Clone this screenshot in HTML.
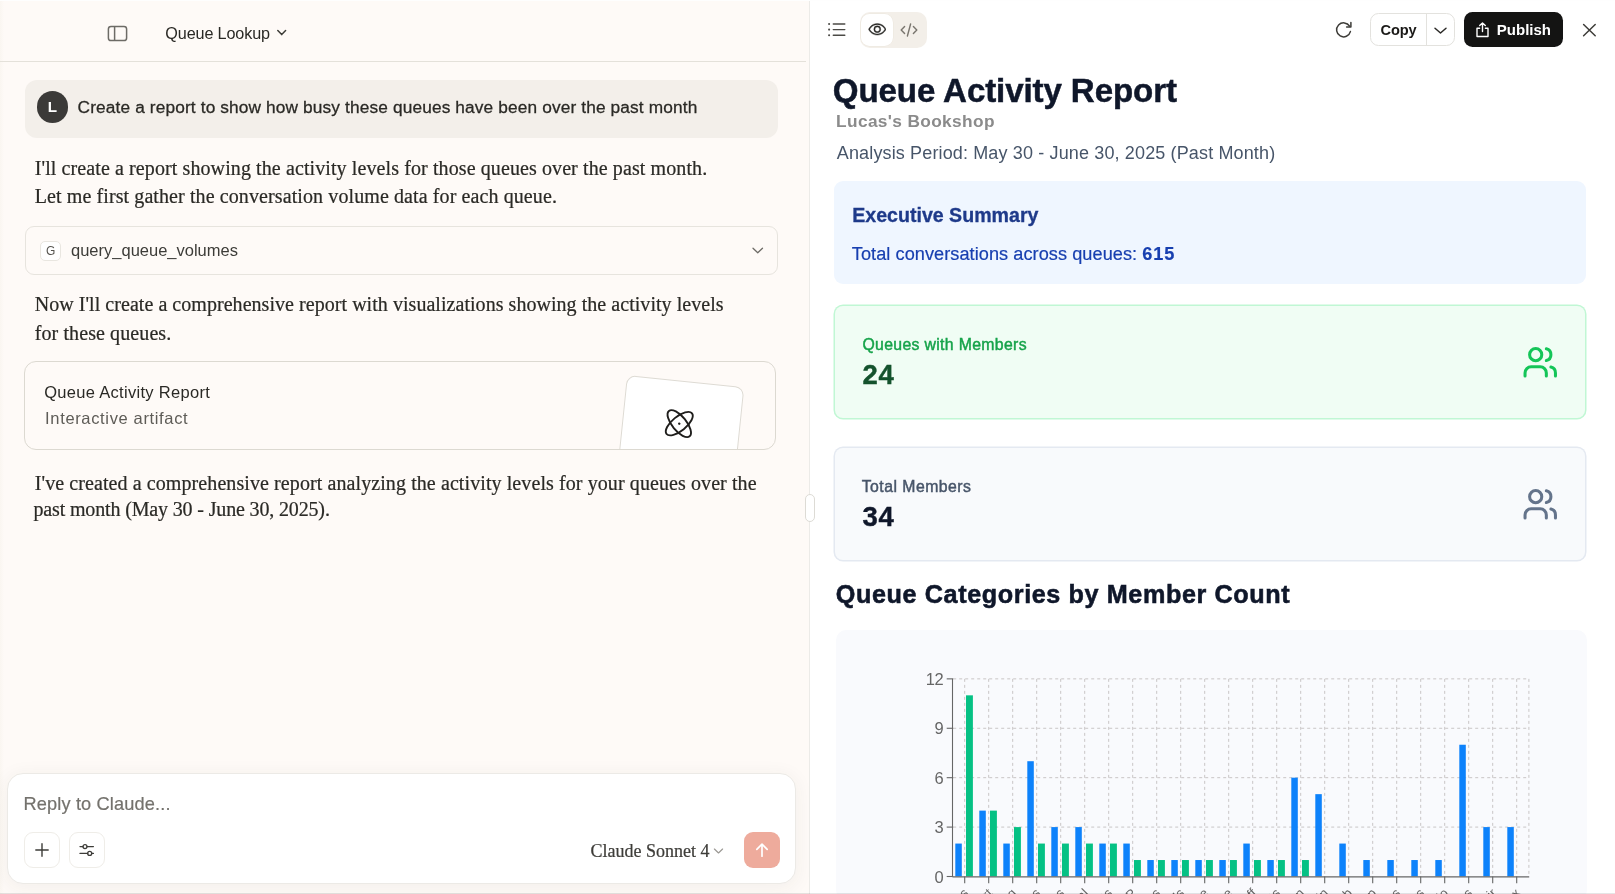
<!DOCTYPE html>
<html><head><meta charset="utf-8"><title>Queue Lookup</title>
<style>
html,body{margin:0;padding:0;}
body{width:1615px;height:894px;overflow:hidden;position:relative;background:#fff;font-family:"Liberation Sans",sans-serif;}
#root{position:absolute;left:0;top:0;width:1615px;height:894px;will-change:transform;}
.t{position:absolute;white-space:pre;}
.b{position:absolute;box-sizing:content-box;}
b{font-weight:700;}
</style></head><body>
<div id="root">
<div class="b" style="left:0px;top:0px;width:809.5px;height:894px;background:#fefaf7;"></div>
<div class="b" style="left:0px;top:0px;width:4px;height:894px;background:linear-gradient(90deg,#faf6f1,rgba(254,250,247,0));"></div>
<div class="b" style="left:0px;top:61px;width:805.5px;height:1px;background:#e4e1da;"></div>
<svg class="b" style="left:107px;top:25px" width="21" height="17" viewBox="0 0 21 17" fill="none" stroke="#6d6b66" stroke-width="1.5"><rect x="1.4" y="1.4" width="18.2" height="14.2" rx="2.6"/><line x1="7.6" y1="1.4" x2="7.6" y2="15.6"/></svg>
<div class="t" style="left:165.30px;top:25.49px;font:400 16.2px/16.2px 'Liberation Sans',sans-serif;color:#2a2925;letter-spacing:-0.13px;">Queue Lookup</div>
<svg class="b" style="left:275px;top:27px" width="14" height="12" viewBox="0 0 14 12" fill="none" stroke="#3d3c38" stroke-width="1.5" stroke-linecap="round" stroke-linejoin="round"><path d="M2.8 3.6 L6.7 7.6 L10.6 3.6"/></svg>
<div class="b" style="left:25.3px;top:80px;width:753px;height:57.8px;background:#f3efea;border-radius:12px;"></div>
<div class="b" style="left:36.7px;top:91px;width:31.5px;height:31.5px;background:#3b3a38;border-radius:50%;"></div>
<div class="t" style="left:47.70px;top:99.33px;font:700 15.2px/15.2px 'Liberation Sans',sans-serif;color:#fff;letter-spacing:0px;">L</div>
<div class="t" style="left:77.60px;top:98.86px;font:400 17.3px/17.3px 'Liberation Sans',sans-serif;color:#2a2925;letter-spacing:0.13px;-webkit-text-stroke:0.28px #2a2925;">Create a report to show how busy these queues have been over the past month</div>
<div class="t" style="left:34.70px;top:158.45px;font:400 20px/20px 'Liberation Serif',serif;color:#2b2a26;letter-spacing:0.1px;-webkit-text-stroke:0.22px #2b2a26;">I'll create a report showing the activity levels for those queues over the past month.</div>
<div class="t" style="left:34.70px;top:185.65px;font:400 20px/20px 'Liberation Serif',serif;color:#2b2a26;letter-spacing:0.1px;-webkit-text-stroke:0.22px #2b2a26;">Let me first gather the conversation volume data for each queue.</div>
<div class="b" style="left:25.3px;top:226px;width:751px;height:47.2px;border:1px solid #e7e4de;border-radius:9px;background:#fefaf7;"></div>
<div class="b" style="left:40.2px;top:241px;width:18.5px;height:18px;border:1px solid #e9e6e0;border-radius:5px;background:#fff;"></div>
<div class="t" style="left:46.00px;top:245.04px;font:400 12px/12px 'Liberation Sans',sans-serif;color:#55534e;letter-spacing:0px;">G</div>
<div class="t" style="left:71.00px;top:241.83px;font:400 16.5px/16.5px 'Liberation Sans',sans-serif;color:#3d3c38;letter-spacing:0px;">query_queue_volumes</div>
<svg class="b" style="left:750px;top:244px" width="16" height="13" viewBox="0 0 16 13" fill="none" stroke="#6d6b66" stroke-width="1.3" stroke-linecap="round" stroke-linejoin="round"><path d="M3 4.2 L7.75 8.7 L12.5 4.2"/></svg>
<div class="t" style="left:34.70px;top:293.55px;font:400 20px/20px 'Liberation Serif',serif;color:#2b2a26;letter-spacing:0.045px;-webkit-text-stroke:0.22px #2b2a26;">Now I'll create a comprehensive report with visualizations showing the activity levels</div>
<div class="t" style="left:34.70px;top:322.75px;font:400 20px/20px 'Liberation Serif',serif;color:#2b2a26;letter-spacing:0.1px;-webkit-text-stroke:0.22px #2b2a26;">for these queues.</div>
<div class="b" style="left:23.6px;top:361px;width:750.3px;height:86.6px;border:1px solid #dcd9d1;border-radius:12px;overflow:hidden;background:#fefaf7;"><div style="position:absolute;left:602.1px;top:13.2px;width:116px;height:110px;background:#fff;border:1px solid #dedbd4;border-radius:9px;transform-origin:0 0;transform:rotate(5.9deg);"><svg style="position:absolute;left:36.4px;top:21.5px" width="40" height="40" viewBox="0 0 40 40" fill="none" stroke="#1f1e1c" stroke-width="1.9"><ellipse cx="20" cy="20" rx="16.4" ry="7.1" transform="rotate(45 20 20)"/><ellipse cx="20" cy="20" rx="16.4" ry="7.1" transform="rotate(-45 20 20)"/><circle cx="20" cy="20" r="1.25" fill="#1f1e1c" stroke="none"/></svg></div></div>
<div class="t" style="left:44.20px;top:383.53px;font:400 16.5px/16.5px 'Liberation Sans',sans-serif;color:#2a2925;letter-spacing:0.3px;">Queue Activity Report</div>
<div class="t" style="left:45.10px;top:409.83px;font:400 16.5px/16.5px 'Liberation Sans',sans-serif;color:#5e5c57;letter-spacing:0.65px;">Interactive artifact</div>
<div class="t" style="left:34.70px;top:472.65px;font:400 20px/20px 'Liberation Serif',serif;color:#2b2a26;letter-spacing:0.09px;-webkit-text-stroke:0.22px #2b2a26;">I've created a comprehensive report analyzing the activity levels for your queues over the</div>
<div class="t" style="left:33.50px;top:498.55px;font:400 20px/20px 'Liberation Serif',serif;color:#2b2a26;letter-spacing:-0.15px;-webkit-text-stroke:0.22px #2b2a26;">past month (May 30 - June 30, 2025).</div>
<div class="b" style="left:7px;top:773px;width:787px;height:109px;background:#fff;border:1px solid #eceae6;border-radius:16px;box-shadow:0 3px 18px 2px rgba(60,50,30,0.05);"></div>
<div class="t" style="left:23.50px;top:795.49px;font:400 18.2px/18.2px 'Liberation Sans',sans-serif;color:#74726d;letter-spacing:0.14px;-webkit-text-stroke:0.2px #74726d;">Reply to Claude...</div>
<div class="b" style="left:23.6px;top:832.2px;width:34px;height:34px;border:1px solid #efede8;border-radius:9px;background:#fff;"></div>
<svg class="b" style="left:33.8px;top:842.3px" width="16" height="16" viewBox="0 0 16 16" fill="none" stroke="#3d3c38" stroke-width="1.4" stroke-linecap="round"><path d="M8 1.8 V14.2 M1.8 8 H14.2"/></svg>
<div class="b" style="left:68.6px;top:832.2px;width:34.2px;height:34px;border:1px solid #efede8;border-radius:9px;background:#fff;"></div>
<svg class="b" style="left:78px;top:842px" width="18" height="16" viewBox="0 0 18 16" fill="none" stroke="#3d3c38" stroke-width="1.3" stroke-linecap="round"><path d="M2 4.6 H5 M9 4.6 H15.4 M2 11.4 H9.7 M13.7 11.4 H15.4"/><circle cx="7" cy="4.6" r="2"/><circle cx="11.7" cy="11.4" r="2"/></svg>
<div class="t" style="left:590.60px;top:841.52px;font:400 18px/18px 'Liberation Serif',serif;color:#3d3c38;letter-spacing:0px;-webkit-text-stroke:0.22px #3d3c38;">Claude Sonnet 4</div>
<svg class="b" style="left:712px;top:846px" width="13" height="10" viewBox="0 0 13 10" fill="none" stroke="#9a9893" stroke-width="1.15" stroke-linecap="round" stroke-linejoin="round"><path d="M2.4 3 L6.5 7 L10.6 3"/></svg>
<div class="b" style="left:743.9px;top:832.4px;width:35.8px;height:35.4px;background:#eeab9c;border-radius:9px;"></div>
<svg class="b" style="left:753.8px;top:842.2px" width="16" height="16" viewBox="0 0 16 16" fill="none" stroke="#fff" stroke-width="1.7" stroke-linecap="round" stroke-linejoin="round"><path d="M8 14.2 V2.2 M2.8 7.4 L8 2.2 L13.2 7.4"/></svg>
<div class="b" style="left:810px;top:0px;width:805px;height:894px;background:#fff;"></div>
<div class="b" style="left:809px;top:0px;width:1px;height:894px;background:#ecebe8;"></div>
<div class="b" style="left:805.3px;top:494px;width:7.9px;height:26.2px;background:#fff;border:1px solid #dddbd5;border-radius:5px;"></div>
<svg class="b" style="left:826px;top:20px" width="22" height="20" viewBox="0 0 22 20" fill="none" stroke="#4b4a46" stroke-width="1.45" stroke-linecap="round"><path d="M7.3 4 H18.8 M7.3 9.6 H18.8 M7.3 15.3 H18.8"/><g fill="#4b4a46" stroke="none"><circle cx="3.1" cy="4" r="1.05"/><circle cx="3.1" cy="9.6" r="1.05"/><circle cx="3.1" cy="15.3" r="1.05"/></g></svg>
<div class="b" style="left:859.5px;top:12px;width:67px;height:36px;background:#f3efe9;border-radius:10px;"></div>
<div class="b" style="left:861px;top:13.5px;width:32px;height:32px;background:#fff;border-radius:8.5px;box-shadow:0 0 0 0.5px #ece7de;"></div>
<svg class="b" style="left:867.9px;top:20.3px" width="18.6" height="18.6" viewBox="0 0 256 256" fill="#2b2a27" stroke="#2b2a27" stroke-width="5"><path d="M247.31,124.76c-.35-.79-8.82-19.58-27.65-38.41C194.57,61.26,162.88,48,128,48S61.43,61.26,36.34,86.35C17.51,105.18,9,124,8.69,124.76a8,8,0,0,0,0,6.5c.35.79,8.82,19.57,27.65,38.4C61.43,194.74,93.12,208,128,208s66.57-13.26,91.66-38.34c18.83-18.83,27.3-37.61,27.65-38.4A8,8,0,0,0,247.31,124.76ZM128,192c-30.78,0-57.67-11.19-79.93-33.25A133.47,133.47,0,0,1,25,128,133.33,133.33,0,0,1,48.07,97.25C70.33,75.19,97.22,64,128,64s57.67,11.19,79.93,33.25A133.46,133.46,0,0,1,231.05,128C223.84,141.46,192.43,192,128,192Zm0-112a48,48,0,1,0,48,48A48.05,48.05,0,0,0,128,80Zm0,80a32,32,0,1,1,32-32A32,32,0,0,1,128,160Z"/></svg>
<svg class="b" style="left:899px;top:21.5px" width="20" height="16" viewBox="0 0 20 16" fill="none" stroke="#79756e" stroke-width="1.4" stroke-linecap="round" stroke-linejoin="round"><path d="M5.6 4.4 L2.2 8 L5.6 11.6 M14.4 4.4 L17.8 8 L14.4 11.6 M11.6 2 L8.4 14"/></svg>
<svg class="b" style="left:1332.6px;top:19.5px" width="21" height="20" viewBox="0 0 21 20" fill="none" stroke="#3d3c38" stroke-width="1.5" stroke-linecap="round" stroke-linejoin="round"><path d="M16.6 6.2 A7 7 0 1 0 17.4 11.6"/><path d="M17.9 2.6 V6.9 H13.6"/></svg>
<div class="b" style="left:1370.2px;top:13.2px;width:83px;height:30.5px;background:#fff;border:1px solid #e3e2de;border-radius:8.5px;"></div>
<div class="b" style="left:1426.3px;top:14px;width:1px;height:31px;background:#e3e2de;"></div>
<div class="t" style="left:1380.60px;top:22.84px;font:700 14.6px/14.6px 'Liberation Sans',sans-serif;color:#1a1917;letter-spacing:-0.12px;">Copy</div>
<svg class="b" style="left:1432px;top:24px" width="17" height="13" viewBox="0 0 17 13" fill="none" stroke="#2b2a27" stroke-width="1.5" stroke-linecap="round" stroke-linejoin="round"><path d="M3 4.3 L8.5 9 L14 4.3"/></svg>
<div class="b" style="left:1464.3px;top:11.9px;width:98.7px;height:35.2px;background:#141413;border-radius:8.5px;"></div>
<svg class="b" style="left:1473.6px;top:20.5px" width="17" height="18" viewBox="0 0 17 18" fill="none" stroke="#fff" stroke-width="1.4" stroke-linecap="round" stroke-linejoin="round"><path d="M5.6 7.2 H3 V15.5 H14 V7.2 H11.4 M8.5 10.6 V2 M5.7 4.6 L8.5 1.9 L11.3 4.6"/></svg>
<div class="t" style="left:1496.80px;top:22.40px;font:700 15px/15px 'Liberation Sans',sans-serif;color:#fff;letter-spacing:0px;">Publish</div>
<svg class="b" style="left:1581px;top:21.8px" width="17" height="17" viewBox="0 0 17 17" fill="none" stroke="#3d3c38" stroke-width="1.5" stroke-linecap="round"><path d="M2.6 2.5 L14.2 13.7 M14.2 2.5 L2.6 13.7"/></svg>
<div class="t" style="left:832.80px;top:74.38px;font:700 33.1px/33.1px 'Liberation Sans',sans-serif;color:#0f172a;letter-spacing:-0.1px;-webkit-text-stroke:0.5px #0f172a;">Queue Activity Report</div>
<div class="t" style="left:836.10px;top:113.26px;font:700 17.3px/17.3px 'Liberation Sans',sans-serif;color:#8b8b8b;letter-spacing:0.36px;">Lucas's Bookshop</div>
<div class="t" style="left:836.80px;top:143.86px;font:400 18px/18px 'Liberation Sans',sans-serif;color:#475569;letter-spacing:0.14px;">Analysis Period: May 30 - June 30, 2025 (Past Month)</div>
<div class="b" style="left:834.4px;top:181.2px;width:752px;height:102.7px;background:#eff6ff;border-radius:9px;"></div>
<div class="t" style="left:852.20px;top:206.31px;font:700 19.6px/19.6px 'Liberation Sans',sans-serif;color:#1e3a8a;letter-spacing:0px;-webkit-text-stroke:0.3px #1e3a8a;">Executive Summary</div>
<div class="t" style="left:851.80px;top:244.94px;font:400 18.15px/18.15px 'Liberation Sans',sans-serif;color:#173fb0;letter-spacing:0.06px;-webkit-text-stroke:0.2px #173fb0;">Total conversations across queues: <b style="letter-spacing:0.9px">615</b></div>
<div class="b" style="left:835.2px;top:306.4px;width:749.8px;height:111.6px;background:#f0fdf4;box-shadow:0 0 0 1.5px #c0f7d4;border-radius:8px;"></div>
<div class="t" style="left:862.40px;top:337.33px;font:400 15.8px/15.8px 'Liberation Sans',sans-serif;color:#16a34a;letter-spacing:0.34px;-webkit-text-stroke:0.45px #16a34a;">Queues with Members</div>
<div class="t" style="left:862.40px;top:360.72px;font:700 27.5px/27.5px 'Liberation Sans',sans-serif;color:#14532d;letter-spacing:0.9px;-webkit-text-stroke:0.4px #14532d;">24</div>
<svg class="b" style="left:1522.2px;top:343.8px" width="36.5" height="36.5" viewBox="0 0 24 24" fill="none" stroke="#14c558" stroke-width="2" stroke-linecap="round" stroke-linejoin="round"><path d="M16 21v-2a4 4 0 0 0-4-4H6a4 4 0 0 0-4 4v2"/><circle cx="9" cy="7" r="4"/><path d="M22 21v-2a4 4 0 0 0-3-3.87"/><path d="M16 3.13a4 4 0 0 1 0 7.75"/></svg>
<div class="b" style="left:835.2px;top:448.2px;width:749.8px;height:111.6px;background:#f8fafc;box-shadow:0 0 0 1.5px #e4e9f1;border-radius:8px;"></div>
<div class="t" style="left:861.70px;top:479.13px;font:400 15.8px/15.8px 'Liberation Sans',sans-serif;color:#475569;letter-spacing:0.47px;-webkit-text-stroke:0.45px #475569;">Total Members</div>
<div class="t" style="left:862.40px;top:502.52px;font:700 27.5px/27.5px 'Liberation Sans',sans-serif;color:#0f172a;letter-spacing:0.9px;-webkit-text-stroke:0.4px #0f172a;">34</div>
<svg class="b" style="left:1522.2px;top:485.6px" width="36.5" height="36.5" viewBox="0 0 24 24" fill="none" stroke="#64748b" stroke-width="2" stroke-linecap="round" stroke-linejoin="round"><path d="M16 21v-2a4 4 0 0 0-4-4H6a4 4 0 0 0-4 4v2"/><circle cx="9" cy="7" r="4"/><path d="M22 21v-2a4 4 0 0 0-3-3.87"/><path d="M16 3.13a4 4 0 0 1 0 7.75"/></svg>
<div class="t" style="left:835.80px;top:581.57px;font:700 25.2px/25.2px 'Liberation Sans',sans-serif;color:#0f172a;letter-spacing:0.6px;-webkit-text-stroke:0.55px #0f172a;">Queue Categories by Member Count</div>
<div class="b" style="left:836.1px;top:629.9px;width:751.3px;height:270px;background:#f9fafd;border-radius:10px;"></div>
<svg class="b" style="left:0;top:0" width="1615" height="894" viewBox="0 0 1615 894"><g stroke="#c9c6c6" stroke-width="1" stroke-dasharray="3 3" fill="none"><line x1="953.2" y1="827.09" x2="1529.20" y2="827.09"/><line x1="953.2" y1="777.68" x2="1529.20" y2="777.68"/><line x1="953.2" y1="728.27" x2="1529.20" y2="728.27"/><line x1="953.2" y1="678.86" x2="1529.20" y2="678.86"/><line x1="964.70" y1="678.86" x2="964.70" y2="876.5"/><line x1="988.70" y1="678.86" x2="988.70" y2="876.5"/><line x1="1012.70" y1="678.86" x2="1012.70" y2="876.5"/><line x1="1036.70" y1="678.86" x2="1036.70" y2="876.5"/><line x1="1060.70" y1="678.86" x2="1060.70" y2="876.5"/><line x1="1084.70" y1="678.86" x2="1084.70" y2="876.5"/><line x1="1108.70" y1="678.86" x2="1108.70" y2="876.5"/><line x1="1132.70" y1="678.86" x2="1132.70" y2="876.5"/><line x1="1156.70" y1="678.86" x2="1156.70" y2="876.5"/><line x1="1180.70" y1="678.86" x2="1180.70" y2="876.5"/><line x1="1204.70" y1="678.86" x2="1204.70" y2="876.5"/><line x1="1228.70" y1="678.86" x2="1228.70" y2="876.5"/><line x1="1252.70" y1="678.86" x2="1252.70" y2="876.5"/><line x1="1276.70" y1="678.86" x2="1276.70" y2="876.5"/><line x1="1300.70" y1="678.86" x2="1300.70" y2="876.5"/><line x1="1324.70" y1="678.86" x2="1324.70" y2="876.5"/><line x1="1348.70" y1="678.86" x2="1348.70" y2="876.5"/><line x1="1372.70" y1="678.86" x2="1372.70" y2="876.5"/><line x1="1396.70" y1="678.86" x2="1396.70" y2="876.5"/><line x1="1420.70" y1="678.86" x2="1420.70" y2="876.5"/><line x1="1444.70" y1="678.86" x2="1444.70" y2="876.5"/><line x1="1468.70" y1="678.86" x2="1468.70" y2="876.5"/><line x1="1492.70" y1="678.86" x2="1492.70" y2="876.5"/><line x1="1516.70" y1="678.86" x2="1516.70" y2="876.5"/><line x1="1528.90" y1="678.86" x2="1528.90" y2="876.5"/></g><rect x="955.30" y="843.56" width="6.5" height="32.94" fill="#0d82fb"/><rect x="966.00" y="695.33" width="6.9" height="181.17" fill="#05c184"/><rect x="979.30" y="810.62" width="6.5" height="65.88" fill="#0d82fb"/><rect x="990.00" y="810.62" width="6.9" height="65.88" fill="#05c184"/><rect x="1003.30" y="843.56" width="6.5" height="32.94" fill="#0d82fb"/><rect x="1014.00" y="827.09" width="6.9" height="49.41" fill="#05c184"/><rect x="1027.30" y="761.21" width="6.5" height="115.29" fill="#0d82fb"/><rect x="1038.00" y="843.56" width="6.9" height="32.94" fill="#05c184"/><rect x="1051.30" y="827.09" width="6.5" height="49.41" fill="#0d82fb"/><rect x="1062.00" y="843.56" width="6.9" height="32.94" fill="#05c184"/><rect x="1075.30" y="827.09" width="6.5" height="49.41" fill="#0d82fb"/><rect x="1086.00" y="843.56" width="6.9" height="32.94" fill="#05c184"/><rect x="1099.30" y="843.56" width="6.5" height="32.94" fill="#0d82fb"/><rect x="1110.00" y="843.56" width="6.9" height="32.94" fill="#05c184"/><rect x="1123.30" y="843.56" width="6.5" height="32.94" fill="#0d82fb"/><rect x="1134.00" y="860.03" width="6.9" height="16.47" fill="#05c184"/><rect x="1147.30" y="860.03" width="6.5" height="16.47" fill="#0d82fb"/><rect x="1158.00" y="860.03" width="6.9" height="16.47" fill="#05c184"/><rect x="1171.30" y="860.03" width="6.5" height="16.47" fill="#0d82fb"/><rect x="1182.00" y="860.03" width="6.9" height="16.47" fill="#05c184"/><rect x="1195.30" y="860.03" width="6.5" height="16.47" fill="#0d82fb"/><rect x="1206.00" y="860.03" width="6.9" height="16.47" fill="#05c184"/><rect x="1219.30" y="860.03" width="6.5" height="16.47" fill="#0d82fb"/><rect x="1230.00" y="860.03" width="6.9" height="16.47" fill="#05c184"/><rect x="1243.30" y="843.56" width="6.5" height="32.94" fill="#0d82fb"/><rect x="1254.00" y="860.03" width="6.9" height="16.47" fill="#05c184"/><rect x="1267.30" y="860.03" width="6.5" height="16.47" fill="#0d82fb"/><rect x="1278.00" y="860.03" width="6.9" height="16.47" fill="#05c184"/><rect x="1291.30" y="777.68" width="6.5" height="98.82" fill="#0d82fb"/><rect x="1302.00" y="860.03" width="6.9" height="16.47" fill="#05c184"/><rect x="1315.30" y="794.15" width="6.5" height="82.35" fill="#0d82fb"/><rect x="1339.30" y="843.56" width="6.5" height="32.94" fill="#0d82fb"/><rect x="1363.30" y="860.03" width="6.5" height="16.47" fill="#0d82fb"/><rect x="1387.30" y="860.03" width="6.5" height="16.47" fill="#0d82fb"/><rect x="1411.30" y="860.03" width="6.5" height="16.47" fill="#0d82fb"/><rect x="1435.30" y="860.03" width="6.5" height="16.47" fill="#0d82fb"/><rect x="1459.30" y="744.74" width="6.5" height="131.76" fill="#0d82fb"/><rect x="1483.30" y="827.09" width="6.5" height="49.41" fill="#0d82fb"/><rect x="1507.30" y="827.09" width="6.5" height="49.41" fill="#0d82fb"/><g stroke="#666" stroke-width="1.1" fill="none"><line x1="952.5" y1="678.86" x2="952.5" y2="877.0"/><line x1="952.5" y1="876.9" x2="1529.20" y2="876.9"/><line x1="946.7" y1="876.50" x2="953.2" y2="876.50"/><line x1="946.7" y1="827.09" x2="953.2" y2="827.09"/><line x1="946.7" y1="777.68" x2="953.2" y2="777.68"/><line x1="946.7" y1="728.27" x2="953.2" y2="728.27"/><line x1="946.7" y1="678.86" x2="953.2" y2="678.86"/><line x1="964.70" y1="876.5" x2="964.70" y2="883.3"/><line x1="988.70" y1="876.5" x2="988.70" y2="883.3"/><line x1="1012.70" y1="876.5" x2="1012.70" y2="883.3"/><line x1="1036.70" y1="876.5" x2="1036.70" y2="883.3"/><line x1="1060.70" y1="876.5" x2="1060.70" y2="883.3"/><line x1="1084.70" y1="876.5" x2="1084.70" y2="883.3"/><line x1="1108.70" y1="876.5" x2="1108.70" y2="883.3"/><line x1="1132.70" y1="876.5" x2="1132.70" y2="883.3"/><line x1="1156.70" y1="876.5" x2="1156.70" y2="883.3"/><line x1="1180.70" y1="876.5" x2="1180.70" y2="883.3"/><line x1="1204.70" y1="876.5" x2="1204.70" y2="883.3"/><line x1="1228.70" y1="876.5" x2="1228.70" y2="883.3"/><line x1="1252.70" y1="876.5" x2="1252.70" y2="883.3"/><line x1="1276.70" y1="876.5" x2="1276.70" y2="883.3"/><line x1="1300.70" y1="876.5" x2="1300.70" y2="883.3"/><line x1="1324.70" y1="876.5" x2="1324.70" y2="883.3"/><line x1="1348.70" y1="876.5" x2="1348.70" y2="883.3"/><line x1="1372.70" y1="876.5" x2="1372.70" y2="883.3"/><line x1="1396.70" y1="876.5" x2="1396.70" y2="883.3"/><line x1="1420.70" y1="876.5" x2="1420.70" y2="883.3"/><line x1="1444.70" y1="876.5" x2="1444.70" y2="883.3"/><line x1="1468.70" y1="876.5" x2="1468.70" y2="883.3"/><line x1="1492.70" y1="876.5" x2="1492.70" y2="883.3"/><line x1="1516.70" y1="876.5" x2="1516.70" y2="883.3"/></g><g font-family="Liberation Sans, sans-serif" font-size="16.5" fill="#666" text-anchor="end" letter-spacing="-0.6"><text x="943.00" y="882.50">0</text><text x="943.00" y="833.09">3</text><text x="943.00" y="783.68">6</text><text x="943.00" y="734.27">9</text><text x="943.00" y="684.86">12</text></g><g font-family="Liberation Sans, sans-serif" font-size="13" fill="#666" text-anchor="end"><text transform="translate(969.20,894.00) rotate(-45)">Sales</text><text transform="translate(993.20,894.00) rotate(-45)">Support</text><text transform="translate(1017.20,894.00) rotate(-45)">Billing</text><text transform="translate(1041.20,894.00) rotate(-45)">Orders</text><text transform="translate(1065.20,894.00) rotate(-45)">Returns</text><text transform="translate(1089.20,894.00) rotate(-45)">General</text><text transform="translate(1113.20,894.00) rotate(-45)">Events</text><text transform="translate(1137.20,894.00) rotate(-45)">VIP</text><text transform="translate(1161.20,894.00) rotate(-45)">Press</text><text transform="translate(1185.20,894.00) rotate(-45)">Kids</text><text transform="translate(1209.20,894.00) rotate(-45)">Online</text><text transform="translate(1233.20,894.00) rotate(-45)">Rare</text><text transform="translate(1257.20,894.00) rotate(-45)">Staff</text><text transform="translate(1281.20,894.00) rotate(-45)">Gifts</text><text transform="translate(1305.20,894.00) rotate(-45)">Escalation</text><text transform="translate(1329.20,894.00) rotate(-45)">Admin</text><text transform="translate(1353.20,894.00) rotate(-45)">Web</text><text transform="translate(1377.20,894.00) rotate(-45)">Shop</text><text transform="translate(1401.20,894.00) rotate(-45)">Loans</text><text transform="translate(1425.20,894.00) rotate(-45)">News</text><text transform="translate(1449.20,894.00) rotate(-45)">Audio</text><text transform="translate(1473.20,894.00) rotate(-45)">Members</text><text transform="translate(1497.20,894.00) rotate(-45)">Repair</text><text transform="translate(1521.20,894.00) rotate(-45)">Tax</text></g></svg>
<div class="b" style="left:0px;top:0px;width:1615px;height:1.3px;background:#fefefe;"></div>
<div class="b" style="left:0px;top:893px;width:1615px;height:1px;background:rgba(0,0,0,0.1);"></div>
</div>
</body></html>
